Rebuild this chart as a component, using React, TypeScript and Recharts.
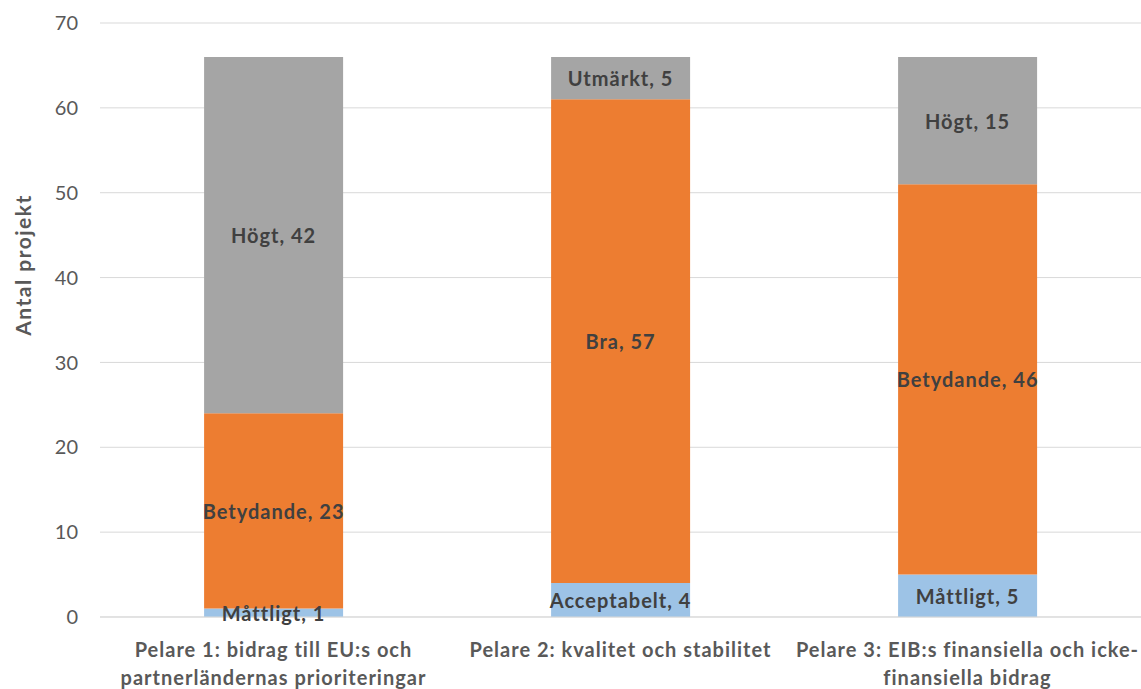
import { Bar, BarChart, CartesianGrid, Label, LabelList, XAxis, YAxis } from "recharts";

const pillars = [
  "Pelare 1: bidrag till EU:s och|partnerländernas prioriteringar",
  "Pelare 2: kvalitet och stabilitet",
  "Pelare 3: EIB:s finansiella och icke-|finansiella bidrag",
];

const lowNames = ["Måttligt", "Acceptabelt", "Måttligt"];
const lowValues = [1, 4, 5];
const midNames = ["Betydande", "Bra", "Betydande"];
const midValues = [23, 57, 46];
const highNames = ["Högt", "Utmärkt", "Högt"];
const highValues = [42, 5, 15];

const yTicks = [0, 10, 20, 30, 40, 50, 60, 70];

const data = pillars.map((p, i) => ({
  pillar: p,
  low: lowValues[i],
  mid: midValues[i],
  high: highValues[i],
}));

const FONT = "Lato, 'Open Sans', sans-serif";

const segLabel = (names: string[]) => (props: any) => {
  const { x, y, width, height, index, value } = props;
  return (
    <text
      x={x + width / 2}
      y={y + height / 2}
      textAnchor="middle"
      dominantBaseline="central"
      fill="#404040"
      fontWeight="bold"
      fontSize={20}
      letterSpacing={1}
      fontFamily={FONT}
    >
      {`${names[index]}, ${value}`}
    </text>
  );
};

const PillarTick = (props: any) => {
  const { x, y, payload } = props;
  const lines = String(payload.value).split("|");
  return (
    <text
      x={x}
      y={y + 32}
      textAnchor="middle"
      fill="#595959"
      fontWeight="bold"
      fontSize={20}
      letterSpacing={1}
      fontFamily={FONT}
    >
      {lines.map((l, i) => (
        <tspan key={i} x={x} dy={i === 0 ? 0 : 28}>
          {l}
        </tspan>
      ))}
    </text>
  );
};

export default function App() {
  return (
    <div style={{ position: "absolute", left: 0, top: 0 }}>
      <BarChart
        width={1141}
        height={689}
        data={data}
        margin={{ top: 23, right: 0, left: 0, bottom: 0 }}
        barCategoryGap="30%"
      >
        <CartesianGrid vertical={false} stroke="#D9D9D9" />
        <XAxis
          dataKey="pillar"
          height={72}
          axisLine={{ stroke: "#D9D9D9" }}
          tickLine={false}
          tick={<PillarTick />}
          interval={0}
        />
        <YAxis
          width={100}
          domain={[0, 70]}
          ticks={yTicks}
          axisLine={false}
          tickLine={false}
          tickMargin={16}
          tick={{ fill: "#595959", fontSize: 20, fontFamily: FONT }}
        >
          <Label
            content={() => (
              <text
                x={22}
                y={265}
                transform="rotate(-90 22 265)"
                textAnchor="middle"
                dominantBaseline="central"
                fill="#595959"
                fontWeight="bold"
                fontSize={21}
                letterSpacing={1.5}
                fontFamily={FONT}
              >
                Antal projekt
              </text>
            )}
          />
        </YAxis>
        <Bar dataKey="low" stackId="a" fill="#9DC3E6" isAnimationActive={false}>
          <LabelList dataKey="low" content={segLabel(lowNames)} />
        </Bar>
        <Bar dataKey="mid" stackId="a" fill="#ED7D31" isAnimationActive={false}>
          <LabelList dataKey="mid" content={segLabel(midNames)} />
        </Bar>
        <Bar dataKey="high" stackId="a" fill="#A5A5A5" isAnimationActive={false}>
          <LabelList dataKey="high" content={segLabel(highNames)} />
        </Bar>
      </BarChart>
    </div>
  );
}
